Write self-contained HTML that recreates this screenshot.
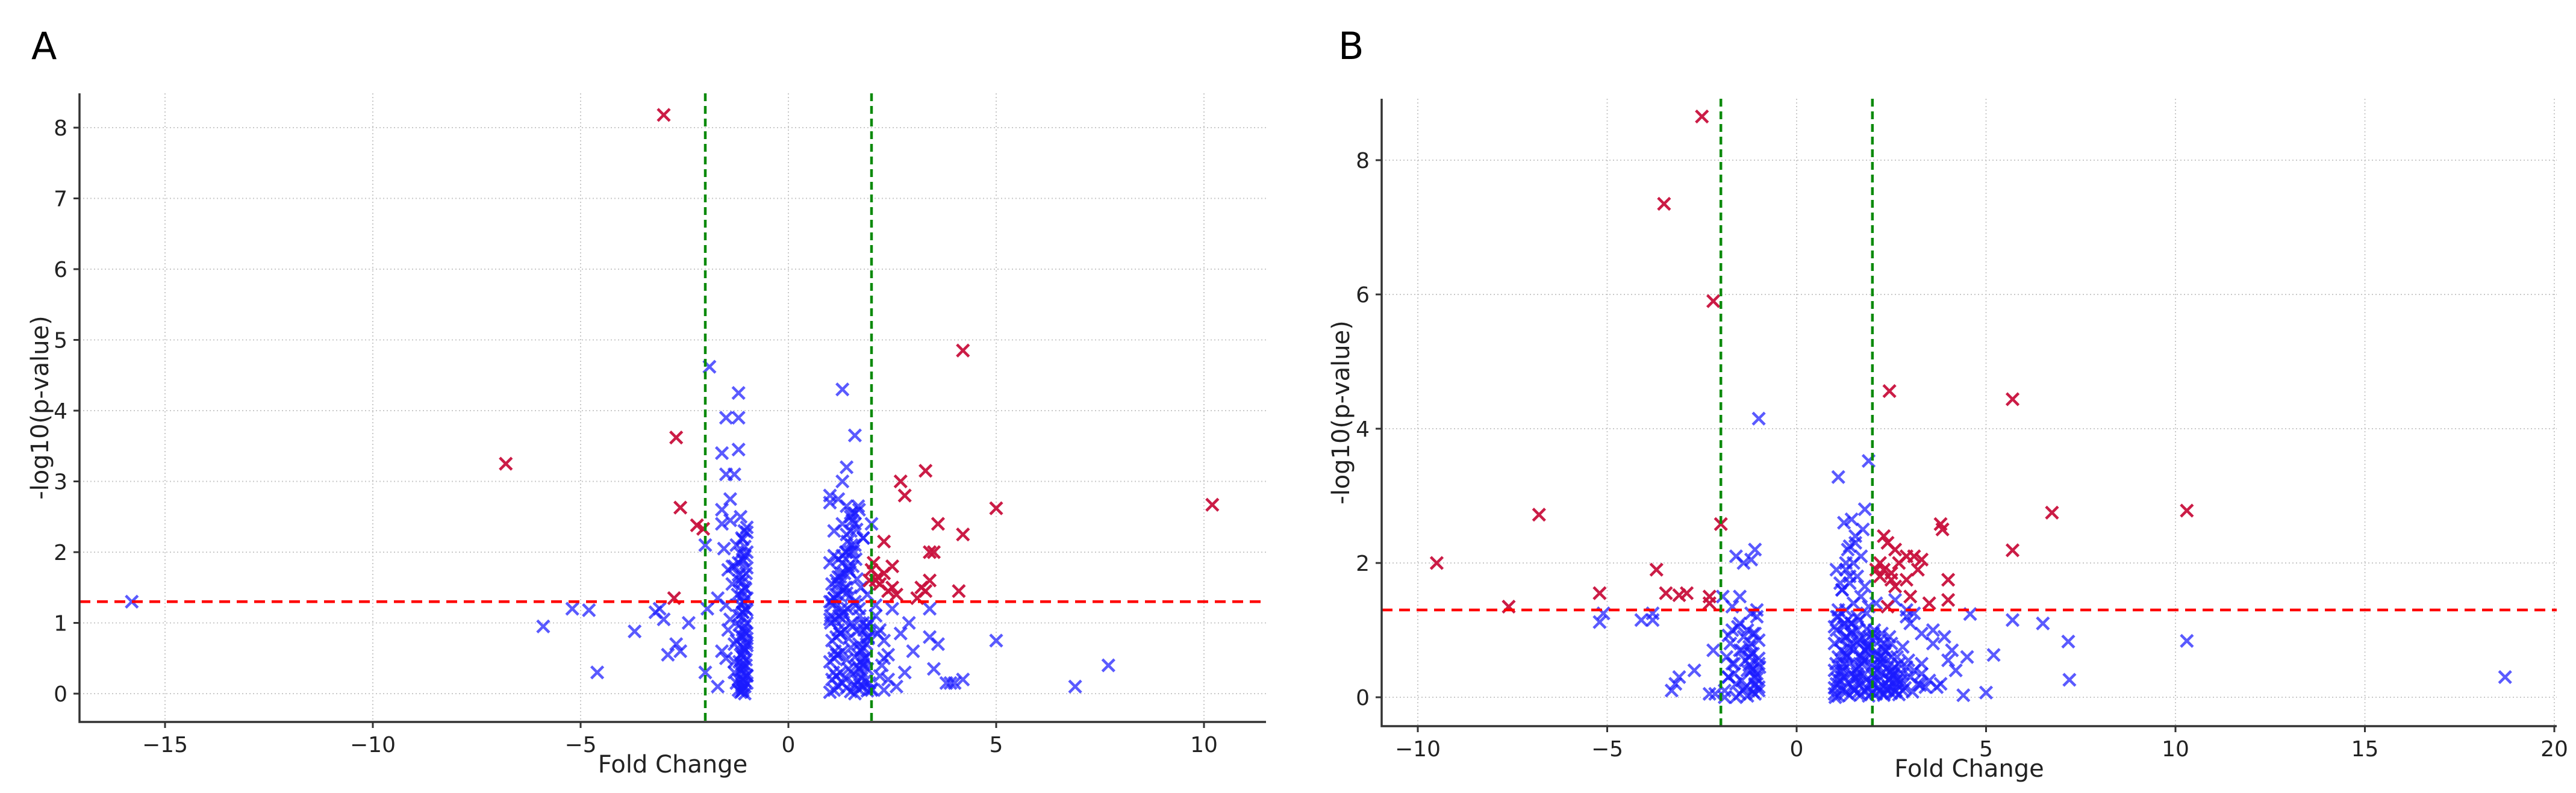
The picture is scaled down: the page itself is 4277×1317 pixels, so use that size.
<!DOCTYPE html>
<html><head><meta charset="utf-8"><style>
html,body{margin:0;padding:0;background:#fff;}
svg{display:block;font-family:"DejaVu Sans","Liberation Sans",sans-serif;}
</style></head><body>
<svg id="fig" width="4277" height="1317" viewBox="0 0 4277 1317" xmlns="http://www.w3.org/2000/svg">
<rect width="4277" height="1317" fill="#fff"/>
<text x="52" y="98" font-size="62" fill="#000">A</text>
<text x="2222" y="98" font-size="62" fill="#000">B</text>
<g id="pa"></g>
<g id="pb"></g>
</svg>
<script>
// Panel A data
const aTicksX = [-15,-10,-5,0,5,10];
const aTicksY = [0,1,2,3,4,5,6,7,8];
const aRedX = [-3.0,-6.8,-2.7,-2.6,-2.2,-2.05,-2.75,4.2,2.7,2.8,3.3,3.6,4.2,5.0,10.2,2.3,3.4,3.5,2.5,3.4,3.3,4.1,2.0,2.1,2.2,2.3,2.4,2.6,3.1,3.2,2.05,1.95,2.15,2.5];
const aRedY = [8.18,3.25,3.62,2.63,2.38,2.33,1.35,4.85,3.0,2.8,3.15,2.4,2.25,2.62,2.67,2.15,2.0,2.0,1.8,1.6,1.45,1.45,1.75,1.6,1.55,1.7,1.45,1.4,1.35,1.5,1.85,1.6,1.65,1.5];
const aBlueX = [-15.8,-5.9,-5.2,-4.8,-4.6,-3.7,-3.2,-3.0,-2.9,-2.7,-2.6,-2.4,-3.1,-1.9,-2.0,-1.95,-2.0,-1.7,-1.6,-1.5,-1.2,-1.2,-1.2,-1.6,-1.4,-1.5,-1.3,1.3,1.6,1.4,1.3,2.5,3.4,3.6,3.5,4.0,4.2,3.8,5.0,6.9,7.7,2.7,3.4,3.0,2.9,2.3,2.4,2.6,3.9,2.2,2.8,2.1,2.3,2.0,
-1.15,-1.1,-1.05,-1.0,-1.2,-1.12,-1.08,-1.02,-1.18,-1.1,-1.05,-1.0,-1.3,-1.25,-1.15,-1.1,-1.05,-1.0,-1.4,-1.2,-1.1,-1.03,-1.15,-1.08,-1.0,-1.22,-1.12,-1.05,-1.35,-1.18,-1.1,-1.02,-1.45,-1.3,-1.2,-1.1,-1.05,-1.0,-1.55,-1.25,-1.12,-1.06,-1.6,-1.4,-1.15,-1.0,-1.7,-1.5,-1.3,-1.1,-1.08,-1.02,-1.2,-1.1,-1.0,-1.15,-1.05,-1.12,-1.0,-1.1,
-1.1,-1.05,-1.0,-1.15,-1.08,-1.02,-1.12,-1.06,-1.0,-1.1,-1.04,-1.18,-1.1,-1.0,-1.07,-1.13,-1.03,-1.1,-1.2,-1.0,-1.09,-1.15,-1.05,-1.1,-1.0,-1.12,-1.25,-1.3,-1.45,-1.6,-1.5,-1.35,
1.0,1.1,1.2,1.3,1.4,1.5,1.6,1.7,1.8,1.9,2.0,1.05,1.15,1.25,1.35,1.45,1.55,1.65,1.75,1.85,1.95,1.0,1.1,1.2,1.3,1.4,1.5,1.6,1.7,1.8,1.9,1.05,1.15,1.25,1.35,1.45,1.55,1.65,1.75,1.85,1.02,1.12,1.22,1.32,1.42,1.52,1.62,1.72,1.82,1.92,1.0,1.1,1.2,1.3,1.4,1.5,1.6,1.7,1.8,1.05,1.15,1.25,1.35,1.45,1.55,1.65,1.75,1.9,2.0,1.0,1.2,1.4,1.6,1.8,1.1,1.3,1.5,1.7,1.0,1.2,1.4,1.6,1.8,1.1,1.3,1.5,
1.0,1.08,1.16,1.24,1.32,1.4,1.48,1.56,1.64,1.72,1.8,1.88,1.96,1.04,1.12,1.2,1.28,1.36,1.44,1.52,1.6,1.68,1.76,1.84,1.92,1.0,1.1,1.2,1.3,1.4,1.5,1.6,1.7,1.8,1.9,1.06,1.18,1.3,1.42,1.54,1.66,1.78,1.9,1.02,1.14,1.26,1.38,1.5,1.62,1.74,1.86,2.1,2.2,2.3,2.4,2.15,2.25];
const aBlueY = [1.3,0.95,1.2,1.18,0.3,0.88,1.15,1.05,0.55,0.7,0.6,1.0,1.2,4.62,2.1,1.2,0.3,1.35,3.4,3.9,4.25,3.9,3.45,2.6,2.75,3.1,3.1,4.3,3.65,3.2,3.0,1.2,0.8,0.7,0.35,0.15,0.2,0.15,0.75,0.1,0.4,0.85,1.2,0.6,1.0,0.5,0.2,0.1,0.15,0.9,0.3,1.1,0.75,0.05,
0.02,0.05,0.1,0.15,0.2,0.28,0.35,0.4,0.45,0.52,0.6,0.68,0.7,0.75,0.82,0.9,0.95,1.0,1.05,1.1,1.15,1.2,1.25,1.3,1.35,1.4,1.45,1.5,1.55,1.6,1.65,1.7,1.75,1.8,1.85,1.9,1.95,2.0,2.05,2.1,2.2,2.3,2.4,2.45,2.5,2.35,0.1,0.5,0.3,0.2,0.65,0.85,0.05,1.15,0.25,0.55,0.0,0.12,0.78,0.38,
0.08,0.18,0.26,0.33,0.42,0.48,0.57,0.63,0.72,0.8,0.88,0.97,1.08,1.18,1.28,1.37,1.48,1.58,1.68,1.78,1.88,1.98,2.08,2.18,2.28,0.03,0.15,0.45,0.9,0.6,1.25,1.8,
0.02,0.05,0.1,0.15,0.08,0.03,0.12,0.06,0.1,0.04,0.07,0.2,0.25,0.3,0.22,0.35,0.28,0.4,0.32,0.18,0.15,0.45,0.5,0.55,0.6,0.48,0.65,0.52,0.7,0.42,0.35,0.75,0.8,0.85,0.9,0.78,0.95,0.88,0.6,0.5,1.0,1.05,1.1,1.15,1.2,1.0,1.25,1.1,0.9,0.8,1.3,1.35,1.4,1.45,1.5,1.38,1.3,1.2,1.0,1.55,1.6,1.65,1.7,1.75,1.8,1.62,1.5,1.4,2.4,1.85,1.9,2.0,2.1,2.2,2.3,2.4,2.5,2.6,2.7,2.75,2.65,2.55,2.2,1.95,1.05,2.0,2.8,
0.3,0.55,0.85,1.12,1.42,1.72,2.02,2.32,0.12,0.4,0.7,1.0,1.3,0.6,0.9,1.2,1.5,1.8,2.1,2.4,2.65,0.22,0.5,0.78,1.05,1.35,1.65,1.95,2.25,2.55,0.0,0.35,0.65,0.95,1.25,1.55,1.85,2.15,2.45,0.18,0.48,0.8,1.1,1.4,1.7,2.0,2.3,1.9,0.62,0.95,1.25,0.25,0.05,0.55,0.85,0.4];
// Panel B data
const bTicksX = [-10,-5,0,5,10,15,20];
const bTicksY = [0,2,4,6,8];
const bRedX = [-9.5,-7.6,-6.8,-5.2,-3.7,-3.5,-3.45,-3.1,-2.9,-2.5,-2.2,-2.3,-2.3,-2.0,2.45,5.7,5.7,6.74,10.3,3.8,3.85,2.2,2.4,2.3,2.5,2.6,2.9,3.3,2.5,2.9,3.0,3.5,2.4,4.0,4.0,2.1,2.2,2.7,3.2,3.1,2.3,2.6];
const bRedY = [2.0,1.35,2.72,1.55,1.9,7.35,1.55,1.52,1.55,8.65,5.9,1.5,1.4,2.58,4.56,4.44,2.19,2.75,2.78,2.58,2.5,2.0,2.3,1.9,1.85,2.2,2.1,2.05,1.75,1.75,1.5,1.4,1.35,1.75,1.45,1.9,1.8,2.0,1.9,2.1,2.4,1.65];
const bBlueX = [-5.2,-5.1,-4.1,-3.8,-3.8,-3.3,-3.2,-3.1,-2.7,-2.3,-2.15,-2.2,-1.7,-1.95,-1.6,-1.2,-1.0,-1.1,-1.4,-1.5,-1.9,-1.8,4.58,5.7,6.5,7.17,7.2,5.2,5.0,4.4,10.3,18.7,4.0,3.6,3.3,3.0,4.2,3.8,4.5,2.9,
-1.9,-1.8,-1.7,-1.6,-1.5,-1.4,-1.3,-1.2,-1.1,-1.0,-1.85,-1.75,-1.65,-1.55,-1.45,-1.35,-1.25,-1.15,-1.05,-0.98,-1.6,-1.4,-1.2,-1.0,-1.5,-1.3,-1.1,-1.2,-1.0,-1.1,-1.3,-1.45,-1.15,-1.05,-1.25,-1.7,
-1.1,-1.05,-1.0,-1.15,-1.2,-1.1,-1.0,-1.05,-1.15,-1.25,-1.35,-1.5,-1.65,-1.8,
1.0,1.1,1.2,1.3,1.4,1.5,1.6,1.7,1.8,1.9,2.0,2.1,2.2,2.3,2.4,2.5,2.6,2.7,2.8,1.05,1.15,1.25,1.35,1.45,1.55,1.65,1.75,1.85,1.95,2.05,2.15,2.25,2.35,2.45,2.55,2.65,2.75,1.0,1.2,1.4,1.6,1.8,2.0,2.2,2.4,2.6,2.8,3.0,3.2,3.4,1.1,1.3,1.5,1.7,1.9,2.1,2.3,2.5,2.7,2.9,3.1,3.3,3.5,3.7,1.0,1.15,1.3,1.45,1.6,1.75,1.9,2.05,2.2,2.35,2.5,2.65,2.8,2.95,1.05,1.25,1.45,1.65,1.85,2.05,2.25,2.45,1.1,1.3,1.5,1.7,1.9,1.2,1.4,1.6,1.8,1.3,1.5,1.7,1.35,1.55,1.75,1.25,1.45,1.8,1.1,1.6,1.9,3.6,3.9,4.1,3.3,2.9,3.1,
1.0,1.08,1.16,1.24,1.32,1.4,1.48,1.56,1.64,1.72,1.8,1.88,1.96,2.04,2.12,2.2,2.28,2.36,2.44,2.52,1.02,1.12,1.22,1.32,1.42,1.52,1.62,1.72,1.82,1.92,2.02,2.12,2.22,2.32,2.42,2.52,2.62,1.04,1.18,1.32,1.46,1.6,1.74,1.88,2.02,2.16,2.3,2.44,2.58,2.72,1.06,1.26,1.46,1.66,1.86,2.06,2.26,2.46,2.66,2.86,3.06,3.26,1.1,1.35,1.6,1.85,2.1,2.35,2.6,1.0,1.2,1.4,1.05,1.3,1.55,1.15,1.4];
const bBlueY = [1.12,1.25,1.15,1.15,1.25,0.1,0.2,0.3,0.4,0.05,0.05,0.7,1.35,1.5,2.1,2.05,4.15,2.2,2.0,1.5,0.0,0.3,1.24,1.15,1.1,0.83,0.26,0.63,0.07,0.03,0.84,0.3,0.55,0.8,0.95,1.1,0.4,0.2,0.6,1.2,
0.1,0.3,0.5,0.2,0.7,0.9,1.0,0.4,0.05,0.15,0.6,0.8,0.35,1.05,0.25,0.55,0.75,0.95,1.2,0.45,0.0,0.12,0.65,0.85,1.1,0.02,0.3,1.25,0.58,0.18,0.4,0.7,0.08,1.3,0.48,1.0,
0.2,0.35,0.5,0.65,0.8,0.95,0.1,0.28,0.42,0.6,0.15,0.05,0.5,0.92,
0.05,0.02,0.1,0.08,0.03,0.12,0.06,0.04,0.1,0.02,0.07,0.05,0.09,0.03,0.11,0.06,0.08,0.04,0.1,0.2,0.25,0.3,0.22,0.35,0.28,0.18,0.32,0.26,0.2,0.3,0.24,0.36,0.21,0.28,0.33,0.19,0.25,0.4,0.45,0.5,0.42,0.55,0.48,0.52,0.44,0.38,0.35,0.3,0.2,0.15,0.6,0.65,0.7,0.62,0.75,0.68,0.58,0.6,0.5,0.45,0.4,0.35,0.25,0.15,0.8,0.85,0.9,0.95,0.82,0.88,0.78,0.9,0.85,0.7,0.8,0.6,0.75,0.55,1.0,1.05,1.1,1.15,1.02,1.0,0.95,0.9,1.2,1.3,1.4,1.5,1.35,1.6,1.7,1.8,1.65,1.9,2.0,2.1,2.2,2.3,2.5,2.6,2.65,2.8,3.28,1.2,3.52,1.0,0.9,0.7,0.5,1.3,1.25,
0.14,0.27,0.38,0.5,0.62,0.74,0.15,0.3,0.46,0.58,0.7,0.12,0.24,0.36,0.48,0.6,0.72,0.12,0.26,0.4,0.0,0.2,0.4,0.6,0.8,0.1,0.3,0.5,0.7,0.9,0.2,0.4,0.6,0.8,0.16,0.32,0.1,0.5,0.7,0.9,1.1,0.35,0.55,0.75,0.95,0.15,0.05,0.25,0.45,0.2,1.2,1.1,0.98,0.86,0.74,0.62,0.5,0.38,0.26,0.14,0.08,0.18,1.3,1.15,1.0,1.25,1.4,0.68,1.45,1.05,1.6,1.8,1.9,2.0,2.4,1.7,2.25];

const NS='http://www.w3.org/2000/svg';
function mk(tag, attrs, parent){const e=document.createElementNS(NS,tag);for(const k in attrs)e.setAttribute(k,attrs[k]);parent.appendChild(e);return e;}

function drawPanel(g, cfg, ticksX, ticksY, redX, redY, blueX, blueY){
  const sx = v => cfg.x0px + (v - cfg.x0v) * cfg.kx;
  const sy = v => cfg.y0px - (v - cfg.y0v) * cfg.ky;
  const L=cfg.left, R=cfg.right, T=cfg.top, B=cfg.bottom;
  ticksX.forEach(t=>{
    const x=sx(t);
    const gl=mk('line',{x1:x,x2:x,y1:T,y2:B,stroke:'#c8c8c8','stroke-width':2,'stroke-dasharray':'2,4'},g);
    
    
    mk('line',{x1:x,x2:x,y1:B,y2:B+10,stroke:'#333','stroke-width':3},g);
    const tx=mk('text',{x:x,y:B+50,'font-size':36,'text-anchor':'middle',fill:'#222'},g);
    tx.textContent=(t<0?'\u2212'+(-t):String(t));
    
    
  });
  ticksY.forEach(t=>{
    const y=sy(t);
    const gl=mk('line',{x1:L,x2:R,y1:y,y2:y,stroke:'#c8c8c8','stroke-width':2,'stroke-dasharray':'2,4'},g);
    
    
    mk('line',{x1:L-10,x2:L,y1:y,y2:y,stroke:'#333','stroke-width':3},g);
    const tx=mk('text',{x:L-20,y:y+13,'font-size':36,'text-anchor':'end',fill:'#222'},g);
    tx.textContent=String(t);
    
    
  });
  const mark=(x,y,col,op,name)=>{
    const p=mk('path',{d:`M${x-10},${y-10}L${x+10},${y+10}M${x-10},${y+10}L${x+10},${y-10}`,stroke:col,'stroke-width':4.6,'stroke-opacity':op,fill:'none'},g);
    
    
  };
  const nb=Math.min(blueX.length,blueY.length);
  for(let i=0;i<nb;i++) mark(sx(blueX[i]),sy(blueY[i]),'#1a1aff',0.72,'blue-point');
  const nr=Math.min(redX.length,redY.length);
  for(let i=0;i<nr;i++) mark(sx(redX[i]),sy(redY[i]),'#c8103c',0.95,'red-point');
  const h=mk('line',{x1:L,x2:R,y1:sy(1.3),y2:sy(1.3),stroke:'#ff0000','stroke-width':4.5,'stroke-dasharray':'18,11'},g);
  
  
  [-2,2].forEach(v=>{
    const l=mk('line',{x1:sx(v),x2:sx(v),y1:T,y2:B,stroke:'#0a8a0a','stroke-width':4.5,'stroke-dasharray':'13,8'},g);
    
    
  });
  const sp=mk('path',{d:`M${L},${T}L${L},${B}L${R},${B}`,stroke:'#333','stroke-width':3.5,fill:'none'},g);
  
  
  const xt=mk('text',{x:(L+R)/2,y:B+84,'font-size':40,'text-anchor':'middle',fill:'#222'},g);
  xt.textContent='Fold Change';
  
  
  const yt=mk('text',{x:0,y:0,'font-size':40,'text-anchor':'middle',fill:'#222',transform:`translate(${cfg.ytx},${(T+B)/2}) rotate(-90)`},g);
  yt.textContent='-log10(p-value)';
  
  
}
drawPanel(document.getElementById('pa'),{x0v:-15,x0px:274,kx:69,y0v:0,y0px:1152,ky:117.5,left:132,right:2102,top:155,bottom:1199,ytx:80},aTicksX,aTicksY,aRedX,aRedY,aBlueX,aBlueY);
drawPanel(document.getElementById('pb'),{x0v:0,x0px:2983,kx:62.9,y0v:0,y0px:1158,ky:111.5,left:2294,right:4245,top:164,bottom:1206,ytx:2240},bTicksX,bTicksY,bRedX,bRedY,bBlueX,bBlueY);
</script>
</body></html>
